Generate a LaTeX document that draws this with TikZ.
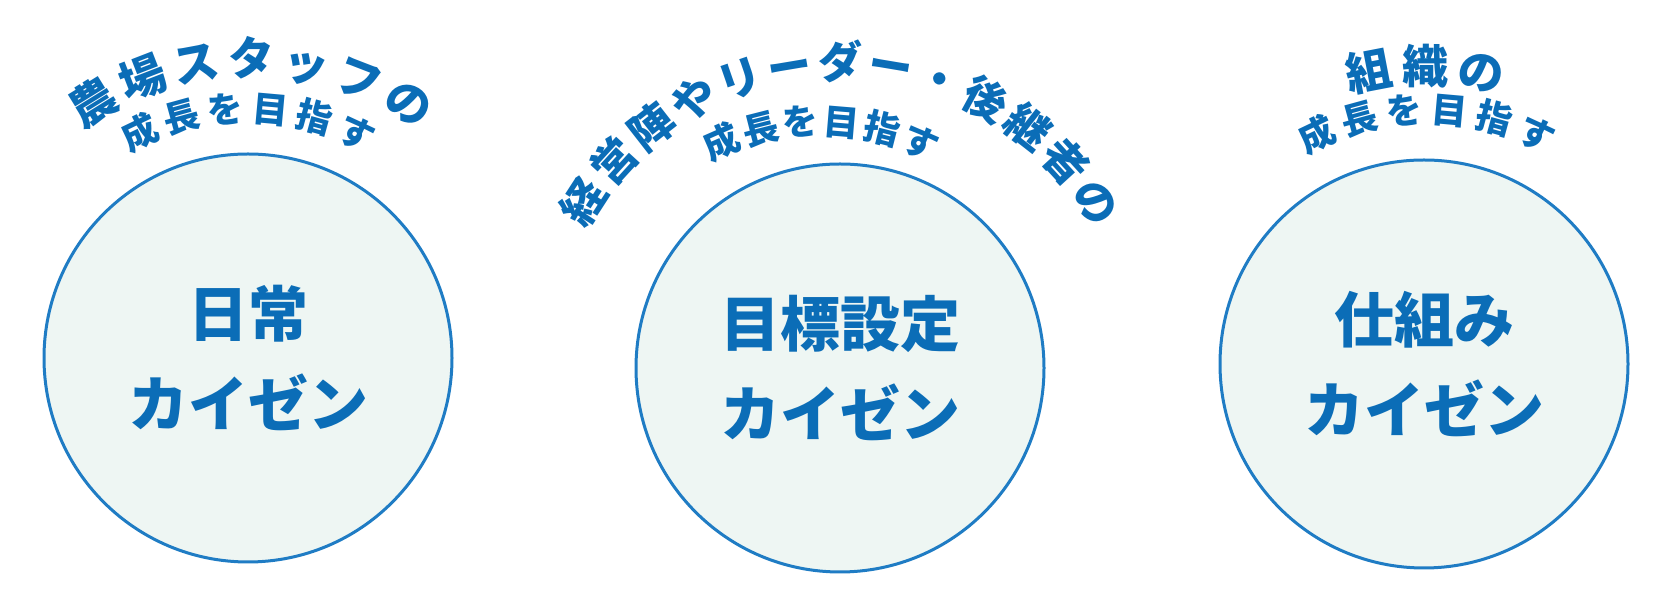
\documentclass[tikz,border=0pt]{standalone}
\usepackage{fontspec}
\setmainfont{Noto Sans CJK JP}
\usepackage{tikz}
\usetikzlibrary{shapes.geometric, decorations.text}
\definecolor{kaizenblue}{HTML}{0B6DB7}
\definecolor{ringblue}{HTML}{1F7CC4}
\definecolor{mint}{HTML}{EEF6F3}
\tikzstyle{kaizen} = [circle, minimum size=408pt, inner sep=0pt, line width=3pt, draw=ringblue, fill=mint, text=kaizenblue, align=center, font=\bfseries\fontsize{60}{90}\selectfont]
\tikzstyle{arcline} = [decorate, decoration={text along path, text align=fit to path, text color=kaizenblue}]

\begin{document}
\begin{tikzpicture}[x=1pt, y=1pt]
   \useasboundingbox (0,0) rectangle (1671,599);
   \node (c1) [kaizen] at (248,241) {日常\\カイゼン};
   \node (c2) [kaizen] at (840,231) {目標設定\\カイゼン};
   \node (c3) [kaizen] at (1424,235) {仕組み\\カイゼン};
   \path [arcline, decoration={text={|\bfseries\fontsize{46}{46}\selectfont|農場スタッフの}}] ([xshift=3pt]c1.center) ++(126.4:282.5) arc[start angle=126.4, end angle=53.6, radius=282.5];
   \path [arcline, decoration={text={|\bfseries\fontsize{36}{36}\selectfont|成長を目指す}}] (c1.center) ++(120:236.3) arc[start angle=120, end angle=60, radius=236.3];
   \path [arcline, decoration={text={|\bfseries\fontsize{44}{44}\selectfont|経営陣やリーダー・後継者の}}] (c2.center) ++(151.4:289.3) arc[start angle=151.4, end angle=28.6, radius=289.3];
   \path [arcline, decoration={text={|\bfseries\fontsize{36}{36}\selectfont|成長を目指す}}] ([xshift=-19pt]c2.center) ++(118.2:233.3) arc[start angle=118.2, end angle=61.8, radius=233.3];
   \path [arcline, decoration={text={|\bfseries\fontsize{46}{46}\selectfont|組織の}}] ([xshift=1pt]c3.center) ++(105.6:280.5) arc[start angle=105.6, end angle=74.4, radius=280.5];
   \path [arcline, decoration={text={|\bfseries\fontsize{36}{36}\selectfont|成長を目指す}}] ([xshift=3pt]c3.center) ++(119.8:241.3) arc[start angle=119.8, end angle=60.2, radius=241.3];
\end{tikzpicture}
\end{document}
